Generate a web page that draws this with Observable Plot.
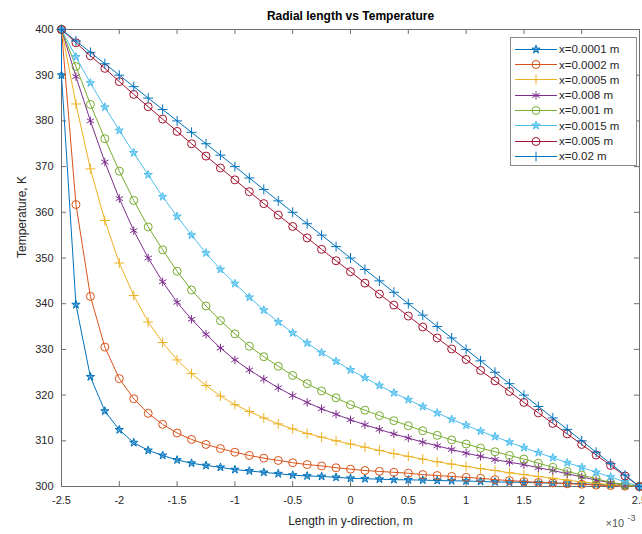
<!DOCTYPE html>
<html><head><meta charset="utf-8">
<script src="https://cdn.jsdelivr.net/npm/d3@7"></script>
<script src="https://cdn.jsdelivr.net/npm/@observablehq/plot@0.6"></script>
<style>
body{margin:0;background:#fff;font-family:"Liberation Sans",Arial,Helvetica,sans-serif;}
#wrap{position:relative;width:642px;height:534px;overflow:hidden;}
#legend{position:absolute;left:510px;top:37px;width:127px;height:129px;box-sizing:border-box;border:1px solid #8a8a8a;background:#fff;padding-top:3.6px;}
.row{height:15.3px;display:flex;align-items:center;font-size:11.5px;color:#262626;white-space:nowrap;}
.row svg{flex:none;margin-right:2px;}
</style></head><body><div id="wrap"></div>
<script>
// Length in y-direction (×10^-3 m)
const lengthY = [-2.5,-2.375,-2.25,-2.125,-2,-1.875,-1.75,-1.625,-1.5,-1.375,-1.25,-1.125,-1,-0.875,-0.75,-0.625,-0.5,-0.375,-0.25,-0.125,0,0.125,0.25,0.375,0.5,0.625,0.75,0.875,1,1.125,1.25,1.375,1.5,1.625,1.75,1.875,2,2.125,2.25,2.375,2.5];
// x=0.0001 m has an extra point at the wall (y=-2.5, T=390)
const lengthY_0001 = [-2.5,-2.5,-2.375,-2.25,-2.125,-2,-1.875,-1.75,-1.625,-1.5,-1.375,-1.25,-1.125,-1,-0.875,-0.75,-0.625,-0.5,-0.375,-0.25,-0.125,0,0.125,0.25,0.375,0.5,0.625,0.75,0.875,1,1.125,1.25,1.375,1.5,1.625,1.75,1.875,2,2.125,2.25,2.375,2.5];
const T_0001 = [400,390,339.8,324.0,316.5,312.4,309.6,307.9,306.8,305.8,305.1,304.6,304.2,303.7,303.4,303.1,302.8,302.5,302.3,302.2,302.0,301.8,301.7,301.6,301.5,301.45,301.4,301.3,301.25,301.2,301.1,301.0,300.95,300.9,300.8,300.75,300.7,300.6,300.45,300.3,300.15,300];
const T_0002 = [400,361.7,341.6,330.5,323.6,319.2,316.0,313.6,311.7,310.3,309.2,308.3,307.5,306.8,306.2,305.7,305.2,304.8,304.5,304.1,303.8,303.5,303.3,303.1,302.9,302.6,302.4,302.2,302.0,301.8,301.5,301.3,301.1,300.9,300.8,300.6,300.5,300.3,300.2,300.1,300];
const T_0005 = [400,383.7,369.5,358.2,348.9,341.8,336.0,331.5,327.7,324.7,322.1,319.8,317.9,316.4,315.0,313.7,312.6,311.6,310.8,310.0,309.3,308.6,307.9,307.2,306.6,306.0,305.4,304.9,304.4,303.9,303.5,303.0,302.6,302.2,301.8,301.4,301.0,300.7,300.4,300.2,300];
const T_0008 = [400,389.7,380.0,371.0,363.0,356.0,350.0,344.8,340.3,336.6,333.3,330.3,327.7,325.5,323.5,321.6,319.9,318.4,317.0,315.8,314.6,313.5,312.5,311.5,310.6,309.7,308.9,308.1,307.3,306.6,305.9,305.3,304.8,304.1,303.5,302.8,302.1,301.4,300.8,300.3,300];
const T_001 = [400,391.9,383.6,376.1,369.0,362.6,356.8,351.8,347.1,343.0,339.5,336.3,333.4,330.7,328.4,326.3,324.3,322.5,320.9,319.4,317.9,316.7,315.5,314.4,313.3,312.2,311.2,310.2,309.3,308.4,307.6,306.8,306.0,305.1,304.2,303.3,302.5,301.7,300.9,300.4,300];
const T_0015 = [400,394.0,388.3,383.0,377.9,373.0,368.2,363.4,359.1,355.0,351.1,347.5,344.4,341.4,338.6,336.0,333.6,331.4,329.3,327.4,325.5,323.8,322.1,320.5,319.0,317.5,316.1,314.7,313.4,312.1,310.9,309.7,308.5,307.4,306.3,305.2,304.2,303.1,302.1,301.0,300];
const T_005 = [400,397.1,394.25,391.5,388.6,385.8,383.1,380.4,377.7,375.0,372.3,369.7,367.1,364.5,361.9,359.4,356.9,354.4,351.9,349.4,347.0,344.5,342.1,339.7,337.3,334.9,332.5,330.1,327.8,325.4,323.1,320.8,318.4,316.1,313.8,311.5,309.2,306.9,304.6,302.3,300];
const T_02 = [400,397.5,395,392.5,390,387.5,385,382.5,380,377.5,375,372.5,370,367.5,365,362.5,360,357.5,355,352.5,350,347.5,345,342.5,340,337.5,335,332.5,330,327.5,325,322.5,320,317.5,315,312.5,310,307.5,305,302.5,300];

const seriesNames = ["x=0.0001 m","x=0.0002 m","x=0.0005 m","x=0.008 m","x=0.001 m","x=0.0015 m","x=0.005 m","x=0.02 m"];
const seriesX = [lengthY_0001,lengthY,lengthY,lengthY,lengthY,lengthY,lengthY,lengthY];
const seriesT = [T_0001,T_0002,T_0005,T_0008,T_001,T_0015,T_005,T_02];
const seriesColors = ["#0072BD","#D95319","#EDB120","#7E2F8E","#77AC30","#4DBEEE","#A2142F","#0072BD"];
const seriesSymbols = ["star","circle","plus","asterisk","circle","star","circle","plus"];

const xTicks = [-2.5,-2,-1.5,-1,-0.5,0,0.5,1,1.5,2,2.5];
const yTicks = [300,310,320,330,340,350,360,370,380,390,400];

const W = 642, H = 534, mL = 61, mR = 3, mT = 29, mB = 48;
const pw = W - mL - mR, ph = H - mT - mB;
const axisColor = "#6e6e6e", textColor = "#262626";
const symR = {star: 2.6, circle: 4, plus: 3.3, asterisk: 4};

const marks = [
  Plot.frame({stroke: axisColor}),
  Plot.tickX(xTicks, {x: d => d, insetTop: ph - 5, stroke: axisColor}),
  Plot.tickX(xTicks, {x: d => d, insetBottom: ph - 5, stroke: axisColor}),
  Plot.tickY(yTicks, {y: d => d, insetRight: pw - 5, stroke: axisColor}),
  Plot.tickY(yTicks, {y: d => d, insetLeft: pw - 5, stroke: axisColor}),
  Plot.axisX(xTicks, {tickSize: 0, tickPadding: 10, tickFormat: d => String(d), label: null, fill: textColor}),
  Plot.axisY(yTicks, {tickSize: 0, tickPadding: 8, tickFormat: d => String(d), label: null, fill: textColor})
];

seriesNames.forEach((name, s) => {
  const rows = seriesT[s].map((t, i) => ({y: seriesX[s][i], T: t}));
  const c = seriesColors[s], sym = seriesSymbols[s];
  marks.push(Plot.line(rows, {x: "y", y: "T", stroke: c, strokeWidth: 1}));
  marks.push(Plot.dot(rows, {x: "y", y: "T", symbol: sym, r: symR[sym], stroke: c, strokeWidth: 1,
    fill: sym === "star" ? c : "none", fillOpacity: sym === "star" ? 0.55 : 1}));
});

marks.push(
  Plot.text(["Radial length vs Temperature"], {frameAnchor: "top", dy: -13, lineAnchor: "middle", fontWeight: "bold", fontSize: 12, fill: "#000"}),
  Plot.text(["Length in y-direction, m"], {frameAnchor: "bottom", dy: 35, lineAnchor: "middle", fontSize: 12, fill: textColor}),
  Plot.text(["Temperature, K"], {frameAnchor: "left", dx: -39, rotate: -90, lineAnchor: "middle", fontSize: 12, fill: textColor}),
  Plot.text(["×10"], {frameAnchor: "bottom-right", dx: -34, dy: 37, textAnchor: "start", lineAnchor: "middle", fontSize: 11, fill: "#555"}),
  Plot.text(["-3"], {frameAnchor: "bottom-right", dx: -12, dy: 32, textAnchor: "start", lineAnchor: "middle", fontSize: 9, fill: "#555"})
);

const chart = Plot.plot({
  width: W, height: H,
  marginLeft: mL, marginRight: mR, marginTop: mT, marginBottom: mB,
  x: {domain: [-2.5, 2.5], axis: null},
  y: {domain: [300, 400], axis: null},
  style: {fontFamily: '"Liberation Sans", Arial, Helvetica, sans-serif', fontSize: "11px", background: "#fff", overflow: "hidden", color: textColor},
  marks
});
const wrap = document.getElementById("wrap");
wrap.appendChild(chart);

// legend
const legend = document.createElement("div");
legend.id = "legend";
const symMap = {star: d3.symbolStar, circle: d3.symbolCircle, plus: d3.symbolPlus, asterisk: d3.symbolAsterisk};
seriesNames.forEach((name, s) => {
  const row = document.createElement("div");
  row.className = "row";
  const sym = seriesSymbols[s], c = seriesColors[s];
  const r = symR[sym];
  const path = d3.symbol(symMap[sym], Math.PI * r * r)();
  const fill = sym === "star" ? c : "none";
  const fo = sym === "star" ? 0.55 : 1;
  row.innerHTML = `<svg width="46" height="15"><line x1="4" x2="46" y1="7.5" y2="7.5" stroke="${c}" stroke-width="1"/><path d="${path}" transform="translate(25,7.5)" stroke="${c}" fill="${fill}" fill-opacity="${fo}" stroke-width="1"/></svg><span>${name}</span>`;
  legend.appendChild(row);
});
wrap.appendChild(legend);
</script></body></html>
